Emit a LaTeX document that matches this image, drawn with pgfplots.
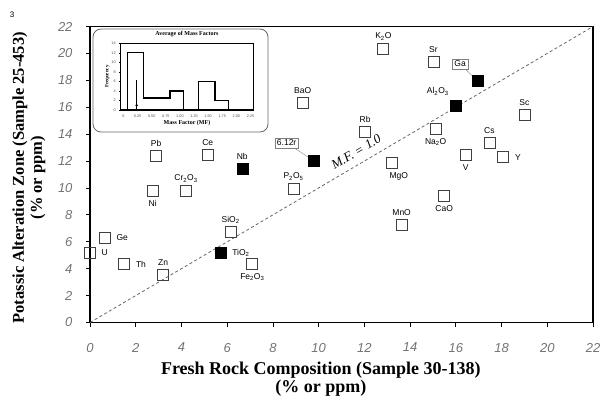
\documentclass[border=0pt]{standalone}
\usepackage{fontspec}
\setmainfont{Liberation Serif}
\setsansfont{Liberation Sans}
\usepackage{pgfplots}
\pgfplotsset{compat=1.18}
\newcommand{\lab}{\sffamily\fontsize{8.5}{9}\selectfont}
\begin{document}
\begin{tikzpicture}
\useasboundingbox (0,0) rectangle (608pt,397pt);
\node[font=\sffamily\fontsize{8}{9}\selectfont] at (12pt,382pt) {3};
\begin{axis}[
  at={(90pt,74.5pt)}, anchor=south west,
  scale only axis, width=503pt, height=296pt,
  xmin=0, xmax=22, ymin=0, ymax=22,
  xtick={0,2,...,22}, ytick={0,2,...,22},
  tick align=outside, xtick pos=bottom, ytick pos=left,
  major tick length=4pt,
  axis line style={line width=1.6pt},
  tick style={line width=0.8pt, black},
  tick label style={font=\sffamily\itshape\fontsize{13}{13}\selectfont, text=black!55},
  /pgf/number format/assume math mode=true,
  xticklabel style={yshift=-13pt},
  yticklabel style={xshift=-10pt},
  xlabel={Fresh Rock Composition (Sample 30-138)\\(\% or ppm)},
  xlabel style={align=center, font=\bfseries\fontsize{18}{18}\selectfont, at={(rel axis cs:0.459,0)}, anchor=north, yshift=-36pt},
  ylabel={Potassic Alteration Zone (Sample 25-453)\\(\% or ppm)},
  ylabel style={align=center, font=\bfseries\fontsize{16.5}{18}\selectfont, at={(rel axis cs:0,0.489)}, anchor=south, yshift=41pt},
  clip=false,
]
\addplot[black!60, line width=0.8pt, dash pattern=on 3pt off 2.5pt] coordinates {(0,0) (22,22)};
\node[rotate=30.5, font=\itshape\fontsize{13}{13}\selectfont, inner sep=0pt] at (axis cs:11.64,12.67) {M.F. = 1.0};
% open squares, label above
\addplot[only marks, mark=square, mark size=5.5pt, draw=black!75, line width=0.8pt,
  point meta=explicit symbolic, nodes near coords,
  every node near coord/.style={font=\lab, text=black, anchor=center, yshift=12.5pt}]
coordinates {
(12.83,20.33) [K\textsubscript{2}O]
(15.02,19.39) [Sr]
(19.0,15.43) [Sc]
(12.03,14.19) [Rb]
(9.3,16.34) [BaO]
(17.47,13.32) [Cs]
(13.63,7.25) [MnO]
(2.89,12.38) [Pb]
(5.15,12.45) [Ce]
(4.2,9.78) [Cr\textsubscript{2}O\textsubscript{3}]
(6.15,6.7) [SiO\textsubscript{2}]
(3.2,3.53) [Zn]
(8.9,9.93) [P\textsubscript{2}O\textsubscript{5}]
};
% open squares, label below
\addplot[only marks, mark=square, mark size=5.5pt, draw=black!75, line width=0.8pt,
  point meta=explicit symbolic, nodes near coords,
  every node near coord/.style={font=\lab, text=black, anchor=center, yshift=-13pt}]
coordinates {
(15.12,14.39) [Na\textsubscript{2}O]
(16.43,12.45) [V]
(15.49,9.4) [CaO]
(2.74,9.78) [Ni]
(7.1,4.33) [Fe\textsubscript{2}O\textsubscript{3}]
};
\addplot[only marks, mark=square, mark size=5.5pt, draw=black!75, line width=0.8pt,
  point meta=explicit symbolic, nodes near coords,
  every node near coord/.style={font=\lab, text=black, anchor=center, yshift=-13pt, xshift=7pt}]
coordinates {
(13.2,11.84) [MgO]
};
% open squares, label right
\addplot[only marks, mark=square, mark size=5.5pt, draw=black!75, line width=0.8pt,
  point meta=explicit symbolic, nodes near coords,
  every node near coord/.style={font=\lab, text=black, anchor=west, xshift=8pt}]
coordinates {
(18.08,12.28) [Y]
(1.5,4.33) [Th]
(0.65,6.3) [Ge]
(0,5.2) [U]
};
% filled squares
\addplot[only marks, mark=square*, mark size=5.5pt, fill=black, draw=black,
  point meta=explicit symbolic, nodes near coords,
  every node near coord/.style={font=\lab, text=black, anchor=center, yshift=12.5pt}]
coordinates {
(6.66,11.41) [Nb]
};
\addplot[only marks, mark=square*, mark size=5.5pt, fill=black, draw=black,
  point meta=explicit symbolic, nodes near coords,
  every node near coord/.style={font=\lab, text=black, anchor=center, yshift=14pt, xshift=-18pt}]
coordinates {
(16.0,16.12) [Al\textsubscript{2}O\textsubscript{3}]
};
\addplot[only marks, mark=square*, mark size=5.5pt, fill=black, draw=black,
  point meta=explicit symbolic, nodes near coords,
  every node near coord/.style={font=\lab, text=black, anchor=west, xshift=8pt}]
coordinates {
(5.72,5.19) [TiO\textsubscript{2}]
};
\addplot[only marks, mark=square*, mark size=5.5pt, fill=black, draw=black]
coordinates {(16.94,17.96) (9.77,12.03)};
\draw[black!50, line width=0.4pt] (axis cs:16.19,19.21) -- (axis cs:16.94,17.96);
\draw[black!50, line width=0.4pt] (axis cs:8.6,13.35) -- (axis cs:9.77,12.03);
\node[draw=black!50, fill=white, font=\lab, inner sep=2pt] at (axis cs:16.19,19.21) {Ga};
\node[draw=black!50, fill=white, font=\lab, inner sep=2pt] at (axis cs:8.6,13.35) {6.12r};
\end{axis}
\draw[rounded corners=8pt, black!60, line width=0.8pt] (93pt,265pt) rectangle (268pt,368pt);
\begin{axis}[
  at={(120.7pt,287pt)}, anchor=south west,
  scale only axis, width=132.6pt, height=66.7pt,
  xmin=-0.2, xmax=9.2, ymin=0, ymax=14,
  xtick={0,...,9}, xticklabels={0,0.25,0.50,0.75,1.00,1.25,1.50,1.75,2.00,2.25},
  ytick={0,2,...,14},
  tick align=outside, xtick pos=bottom, ytick pos=left,
  major tick length=1.5pt,
  axis line style={line width=1.1pt},
  tick style={line width=0.4pt, black},
  tick label style={font=\sffamily\fontsize{3.8}{4}\selectfont, text=black!70},
  /pgf/number format/assume math mode=true,
  title={Average of Mass Factors},
  title style={font=\bfseries\fontsize{6}{6}\selectfont, yshift=-3pt},
  xlabel={Mass Factor (MF)},
  xlabel style={font=\bfseries\fontsize{6}{6}\selectfont, yshift=4pt},
  ylabel={Frequency},
  ylabel style={font=\bfseries\fontsize{5}{6}\selectfont, yshift=-5pt},
]
\addplot[const plot, black, line width=1.2pt] coordinates {
(0.27,0) (0.27,12) (1.40,2.5) (3.30,4) (4.24,0) (5.30,6) (6.49,2) (7.43,0)};
\addplot[black, line width=0.5pt] coordinates {(0.93,0) (0.93,6.3)};
\addplot[only marks, mark=*, mark size=1pt, black] coordinates {(0.93,1)};
\end{axis}
\end{tikzpicture}
\end{document}
